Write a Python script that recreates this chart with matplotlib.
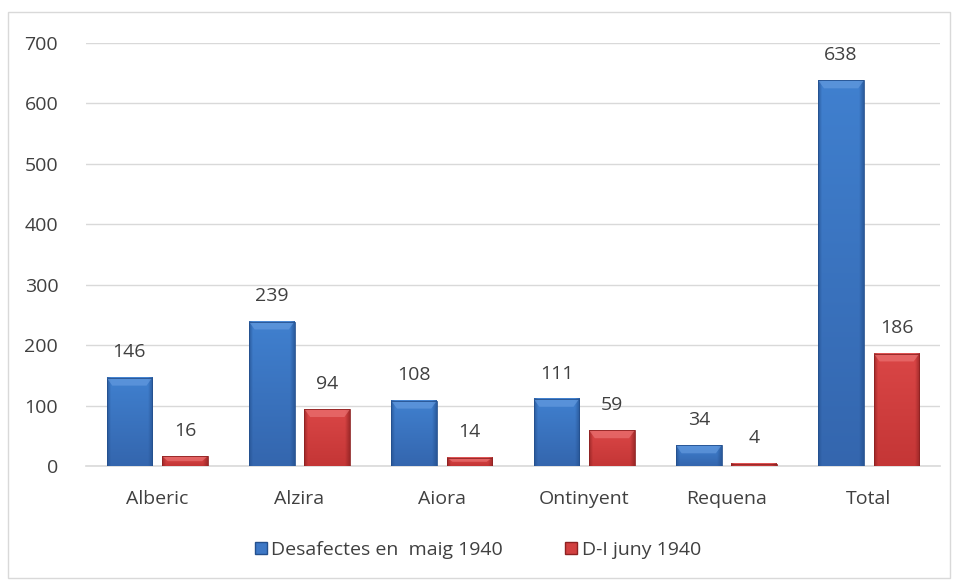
import numpy as np
import matplotlib.pyplot as plt
from matplotlib.patches import Rectangle
from matplotlib.colors import to_rgb

# dades
categories = ["Alberic", "Alzira", "Aiora", "Ontinyent", "Requena", "Total"]
maig_1940 = [146, 239, 108, 111, 34, 638]
juny_1940 = [16, 94, 14, 59, 4, 186]
series_names = ["Desafectes en  maig 1940", "D-I juny 1940"]

plt.rcParams['font.family'] = ['Open Sans', 'DejaVu Sans']

fig = plt.figure(figsize=(9.56, 5.8), dpi=100)
fig.patches.append(Rectangle((8 / 956, 2 / 580), 942 / 956, 566 / 580, transform=fig.transFigure,
                             fill=False, edgecolor='#D9D9D9', linewidth=1))
ax = fig.add_axes([86 / 956, 1 - 466 / 580, 854 / 956, 423 / 580])

x = np.arange(len(categories))
w = 0.32
off = 0.195


def shaded(bars, top, bottom, edge, bevel):
    # ombrejat tipus Excel: degradat vertical, vores fosques i bisell superior
    top, bottom, edge = np.array(to_rgb(top)), np.array(to_rgb(bottom)), np.array(to_rgb(edge))
    for b in bars:
        x0, y0 = b.get_x(), b.get_y()
        bw, bh = b.get_width(), b.get_height()
        hpx = max(int(bh * 0.604), 2)
        t = np.linspace(0, 1, hpx).reshape(-1, 1, 1)
        img = top * (1 - t) + bottom * t
        img = np.repeat(img, 46, axis=1)
        s = np.linspace(0, 1, 46)
        side = np.clip(np.maximum(1 - s / 0.08, (s - 0.9) / 0.1), 0, 1).reshape(1, -1, 1)
        img = img * (1 - side * 0.7) + edge * side * 0.7
        ax.imshow(img, aspect='auto', extent=(x0, x0 + bw, y0, y0 + bh), origin='upper',
                  zorder=3, interpolation='bilinear')
        bev = min(13.0, bh * 0.5)
        ax.add_patch(plt.Polygon([[x0, y0 + bh], [x0 + bw, y0 + bh],
                                  [x0 + bw - 0.04, y0 + bh - bev], [x0 + 0.04, y0 + bh - bev]],
                                 closed=True, facecolor=bevel, alpha=0.6, edgecolor='none', zorder=4))
        ax.add_patch(Rectangle((x0, y0), bw, bh, fill=False, edgecolor=edge, linewidth=0.6, zorder=5))


b1 = ax.bar(x - off, maig_1940, w, color='#3E78C6', zorder=2, label=series_names[0])
b2 = ax.bar(x + off, juny_1940, w, color='#D24040', zorder=2, label=series_names[1])
shaded(b1, '#4080CF', '#3466AE', '#24508E', '#6A9FE2')
shaded(b2, '#DA4646', '#C43636', '#8E2222', '#EE7A7A')

for bars, vals in ((b1, maig_1940), (b2, juny_1940)):
    for b, v in zip(bars, vals):
        ax.text(b.get_x() + b.get_width() / 2, v + 42, str(v), ha='center', va='center',
                fontsize=14, color='#404040', zorder=6)

ax.set_xlim(-0.5, len(categories) - 0.5)
ax.set_ylim(0, 700)
ax.set_yticks(range(0, 701, 100))
ax.set_xticks(x)
ax.set_xticklabels(categories)
ax.tick_params(axis='both', length=0, labelsize=14, labelcolor='#404040')
ax.tick_params(axis='x', pad=17)
ax.tick_params(axis='y', pad=20)
ax.grid(axis='y', color='#D9D9D9', linewidth=1, zorder=0)
ax.set_axisbelow(True)
for s in ['top', 'right', 'left']:
    ax.spines[s].set_visible(False)
ax.spines['bottom'].set_color('#D9D9D9')
ax.spines['bottom'].set_linewidth(1.2)

h1 = Rectangle((0, 0), 1, 1, facecolor='#3E78C6', edgecolor='#24508E')
h2 = Rectangle((0, 0), 1, 1, facecolor='#D24040', edgecolor='#8E2222')
fig.legend([h1, h2], series_names, loc='center', bbox_to_anchor=(0.5, 1 - 550 / 580), ncol=2,
           frameon=False, fontsize=14, labelcolor='#404040', handlelength=0.6, handleheight=0.6,
           handletextpad=0.25, columnspacing=3.2)

fig.savefig('out.png', dpi=100)
